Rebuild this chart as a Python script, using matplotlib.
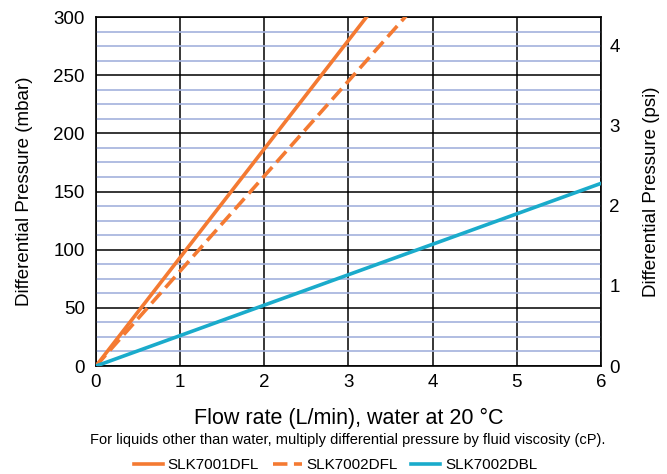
import matplotlib

matplotlib.use("Agg")
import matplotlib.pyplot as plt
from matplotlib.ticker import MultipleLocator

# data
flow = [0, 6]
slk7001dfl = [0, 560]   # ~93 mbar per L/min, clipped at 300
slk7002dfl = [0, 490]   # ~81.5 mbar per L/min
slk7002dbl = [0, 157]
labels = ["SLK7001DFL", "SLK7002DFL", "SLK7002DBL"]

MBAR_PER_PSI = 68.9476
ORANGE = "#F47A32"
BLUE = "#1AABCB"

plt.rcParams["font.family"] = ["Liberation Sans", "DejaVu Sans"]

fig = plt.figure(figsize=(6.67, 4.74), dpi=100)
ax = fig.add_axes([0.1439, 0.2278, 0.7571, 0.7363])

ax.set_xlim(0, 6)
ax.set_ylim(0, 300)
ax.xaxis.set_major_locator(MultipleLocator(1))
ax.yaxis.set_major_locator(MultipleLocator(50))
ax.yaxis.set_minor_locator(MultipleLocator(12.5))
ax.grid(which="minor", axis="y", color="#A3B1DD", lw=1.2, zorder=0)
ax.grid(which="major", color="black", lw=1.1, zorder=1)
ax.tick_params(which="both", length=0, labelsize=13.5)
ax.tick_params(axis="y", pad=8)
ax.tick_params(axis="x", pad=6)
for s in ax.spines.values():
    s.set_color("black")
    s.set_linewidth(1.2)

l1, = ax.plot(flow, slk7001dfl, color=ORANGE, lw=2.6, zorder=3)
l2, = ax.plot(flow, slk7002dfl, color=ORANGE, lw=2.6, ls=(0, (4, 1.8)), zorder=3)
l3, = ax.plot(flow, slk7002dbl, color=BLUE, lw=2.6, zorder=3)

ax.set_ylabel("Differential Pressure (mbar)", fontsize=13.5, labelpad=15)
ax.set_xlabel("Flow rate (L/min), water at 20 °C", fontsize=15.5, labelpad=12)

ax2 = ax.twinx()
ax2.set_ylim(0, 300 / MBAR_PER_PSI)
ax2.yaxis.set_major_locator(MultipleLocator(1))
ax2.tick_params(length=0, labelsize=13.5, pad=6)
ax2.set_ylabel("Differential Pressure (psi)", fontsize=13.5, labelpad=17)
for s in ax2.spines.values():
    s.set_visible(False)

fig.text(0.521, 0.072, "For liquids other than water, multiply differential pressure by fluid viscosity (cP).",
         ha="center", va="center", fontsize=10.5)
fig.legend([l1, l2, l3], labels, loc="center", bbox_to_anchor=(0.503, 0.019), ncol=3,
           frameon=False, fontsize=11, handlelength=1.9, handletextpad=0.3, columnspacing=0.9,
           borderpad=0.1)

fig.savefig("out.png", dpi=100)
